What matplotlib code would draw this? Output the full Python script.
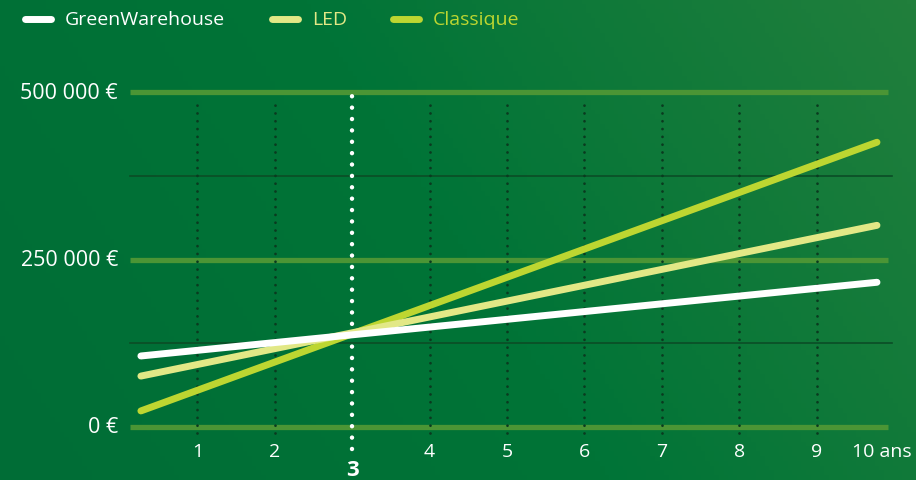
import numpy as np
import matplotlib.pyplot as plt
from matplotlib.colors import LinearSegmentedColormap

plt.rcParams['font.family'] = ['Open Sans', 'DejaVu Sans']

# Data: two end points per straight line
series = ["GreenWarehouse", "LED", "Classique"]
x_ends = [0.27, 9.78]
gw_vals = [106000, 216000]
led_vals = [76000, 301000]
classique_vals = [24000, 425000]
colors = ["#ffffff", "#e2e886", "#bdd631"]

year_ticks = [1, 2, 4, 5, 6, 7, 8, 9]
break_even = 3
y_ticks = [0, 250000, 500000]
y_labels = ["0 €", "250 000 €", "500 000 €"]
y_minor = [125000, 375000]

fig = plt.figure(figsize=(9.16, 4.81), dpi=100)

# background gradient
bg = fig.add_axes([0, 0, 1, 1])
bg.set_axis_off()
gx, gy = np.meshgrid(np.linspace(0, 1, 200), np.linspace(0, 1, 100))
grad = 0.75 * gx + 0.25 * (1 - gy)
cmap = LinearSegmentedColormap.from_list("bg", ["#006d36", "#007437", "#217f3c"])
bg.imshow(grad, cmap=cmap, aspect="auto", extent=[0, 1, 0, 1], origin="upper")

ax = fig.add_axes([0, 0, 1, 1], facecolor="none")
ax.set_xlim(-120 / 77.4, (916 - 120) / 77.4)
ax.set_ylim(-53 / 0.00067, 428 / 0.00067)
ax.set_axis_off()

x0, x1 = 10 / 77.4, 768 / 77.4
for v in y_ticks:
    ax.plot([x0, x1], [v, v], color="#4b9535", lw=3.8, solid_capstyle="butt", zorder=1)
for v in y_minor:
    ax.plot([x0, x1 + 0.05], [v, v], color="#0b4d26", lw=1.2, zorder=1)

for x in year_ticks:
    ax.plot([x, x], [-9000, 490000], color="#0a3a1f", lw=2.0,
            linestyle=(0, (0.01, 2.8)), dash_capstyle="round", zorder=2)

ax.plot([break_even, break_even], [-33000, 495000], color="white", lw=3.2,
        linestyle=(0, (0.01, 2.55)), dash_capstyle="round", zorder=5)

ax.plot(x_ends, classique_vals, color=colors[2], lw=5, solid_capstyle="round", zorder=3)
ax.plot(x_ends, led_vals, color=colors[1], lw=5, solid_capstyle="round", zorder=3)
ax.plot(x_ends, gw_vals, color=colors[0], lw=5, solid_capstyle="round", zorder=4)

# axis labels
for v, lab in zip(y_ticks, y_labels):
    ax.text(-2 / 77.4, v, lab, color="white", fontsize=15.5, ha="right", va="center")
for x in year_ticks:
    ax.text(x, -36000, str(x), color="white", fontsize=14, ha="center", va="center")
ax.text(9.84, -36000, "10 ans", color="white", fontsize=14, ha="center", va="center")
ax.text(break_even, -63000, str(break_even), color="white", fontsize=16,
        fontweight="bold", ha="center", va="center")

# legend along the top
leg_x = [25, 272, 393]
for px, name, c in zip(leg_x, series, colors):
    fx0 = px / 916
    fx1 = (px + 26) / 916
    fy = 1 - 20 / 481
    fig.add_artist(plt.Line2D([fx0, fx1], [fy, fy], color=c, lw=5,
                              solid_capstyle="round", transform=fig.transFigure))
    tc = "white" if c == "#ffffff" else c
    fig.text((px + 40) / 916, fy, name, color=tc, fontsize=14, ha="left", va="center")

fig.savefig("out.png", dpi=100)
